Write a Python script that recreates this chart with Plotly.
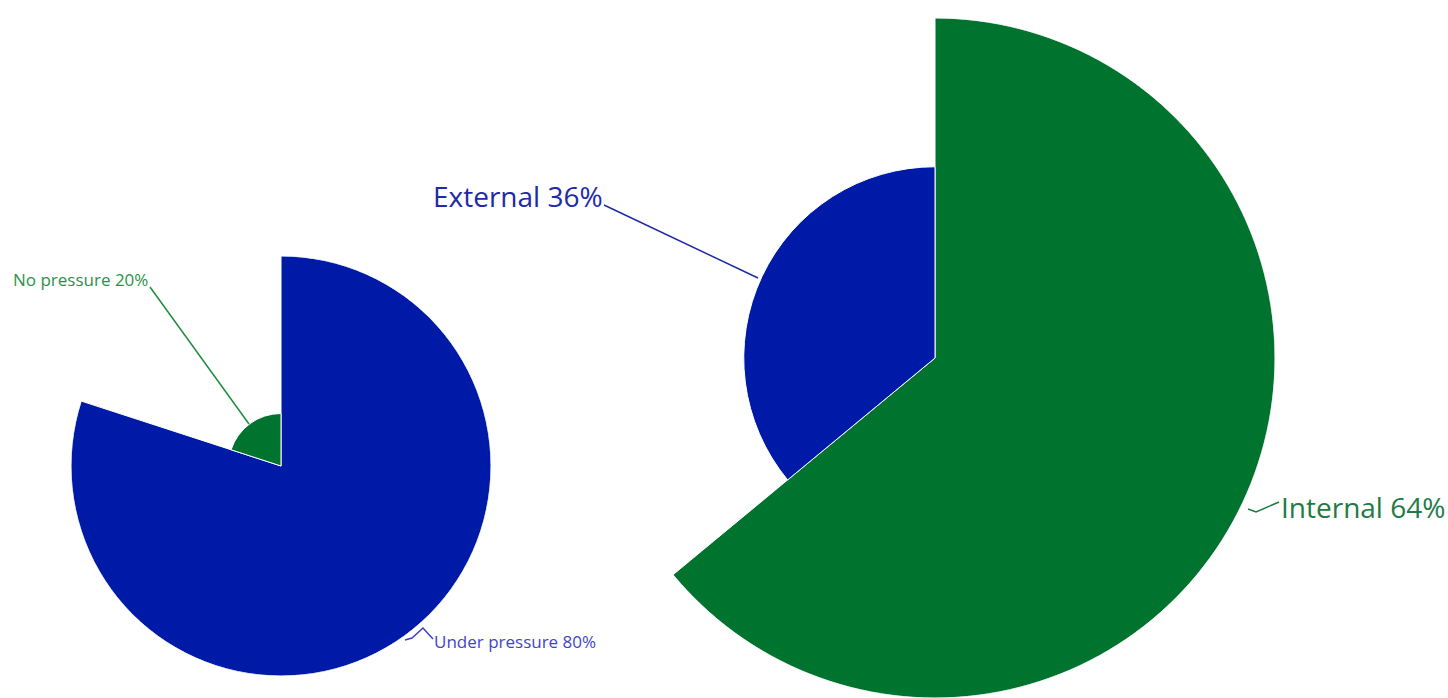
import plotly.graph_objects as go

W, H = 1448, 698

# Data
left_labels = ["Under pressure", "No pressure"]
left_values = [80, 20]
right_labels = ["Internal", "External"]
right_values = [64, 36]

BLUE = "#001AA8"
GREEN = "#00732F"
left_colors = [BLUE, GREEN]
right_colors = [GREEN, BLUE]


def slices(values):
    total = sum(values)
    thetas, widths = [], []
    start = 0.0
    for v in values:
        w = v / total * 360.0
        thetas.append(start + w / 2)
        widths.append(w)
        start += w
    return thetas, widths


def px(x):
    return x / W


def py(y):
    return 1 - y / H


fig = go.Figure()

lt, lw = slices(left_values)
fig.add_trace(go.Barpolar(
    r=left_values, theta=lt, width=lw,
    marker=dict(color=left_colors, line=dict(color="white", width=1)),
    subplot="polar", hoverinfo="skip", showlegend=False,
))
rt, rw = slices(right_values)
fig.add_trace(go.Barpolar(
    r=right_values, theta=rt, width=rw,
    marker=dict(color=right_colors, line=dict(color="white", width=1)),
    subplot="polar2", hoverinfo="skip", showlegend=False,
))

polar_common = dict(
    bgcolor="rgba(0,0,0,0)",
    angularaxis=dict(rotation=90, direction="clockwise", visible=False,
                     showgrid=False, showline=False, ticks=""),
    bargap=0,
)

fig.update_layout(
    width=W, height=H,
    margin=dict(l=0, r=0, t=0, b=0),
    paper_bgcolor="white",
    plot_bgcolor="white",
    font=dict(family="Open Sans, Noto Sans, sans-serif"),
    polar=dict(
        domain=dict(x=[px(71), px(491)], y=[py(676), py(256)]),
        radialaxis=dict(range=[0, max(left_values)], visible=False, showgrid=False),
        **polar_common,
    ),
    polar2=dict(
        domain=dict(x=[px(595), px(1275)], y=[0, py(18)]),
        radialaxis=dict(range=[0, max(right_values)], visible=False, showgrid=False),
        **polar_common,
    ),
)

# Label lines (pixel paths)
lines = [
    ([(150, 287), (249, 424)], "#1f8c42"),
    ([(405, 640), (412, 638), (423, 628), (433, 639)], "#3a40c8"),
    ([(604, 205), (758, 278)], "#1e2aa8"),
    ([(1248, 509), (1256, 512), (1279, 502)], "#1d7a40"),
]
for pts, col in lines:
    path = "M " + " L ".join(f"{px(x)} {py(y)}" for x, y in pts)
    fig.add_shape(type="path", path=path, xref="paper", yref="paper",
                  line=dict(color=col, width=1.5))

labels = [
    (f"{left_labels[1]} {left_values[1]}%", 11, 279, 17, "#2a9248"),
    (f"{left_labels[0]} {left_values[0]}%", 432, 641, 17, "#3f45c8"),
    (f"{right_labels[1]} {right_values[1]}%", 431, 196, 28, "#1e2aa8"),
    (f"{right_labels[0]} {right_values[0]}%", 1279, 507, 28, "#237a43"),
]
for text, x, y, size, col in labels:
    fig.add_annotation(text=text, x=px(x), y=py(y), xref="paper", yref="paper",
                       xanchor="left", yanchor="middle", showarrow=False,
                       font=dict(size=size, color=col))

fig.write_html("out.html")
